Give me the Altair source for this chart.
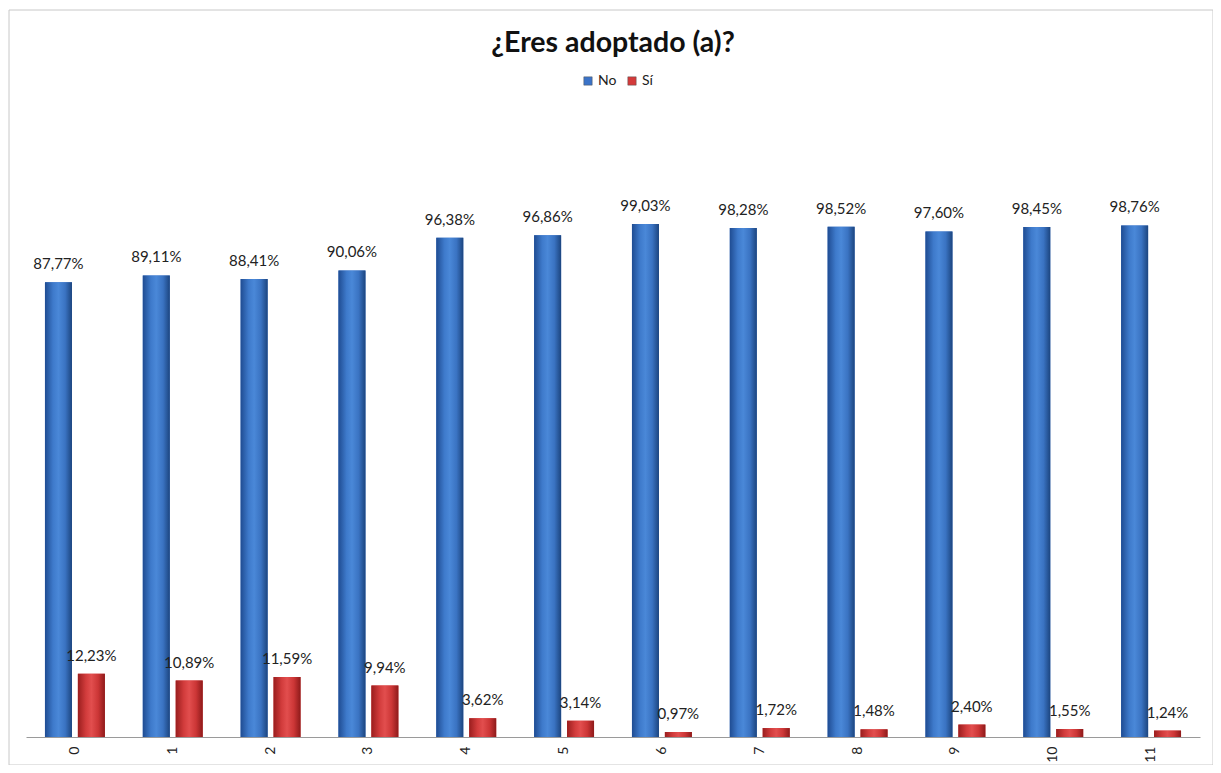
import altair as alt
import pandas as pd

categories = ["0", "1", "2", "3", "4", "5", "6", "7", "8", "9", "10", "11"]
no_values = [87.77, 89.11, 88.41, 90.06, 96.38, 96.86, 99.03, 98.28, 98.52, 97.60, 98.45, 98.76]
si_values = [12.23, 10.89, 11.59, 9.94, 3.62, 3.14, 0.97, 1.72, 1.48, 2.40, 1.55, 1.24]
series = ["No", "Sí"]

rows = []
for c, n, s in zip(categories, no_values, si_values):
    rows.append({"cat": c, "serie": "No", "v": n})
    rows.append({"cat": c, "serie": "Sí", "v": s})
df = pd.DataFrame(rows)

W, H = 1174, 518
FONT = "Lato"

x_enc = alt.X("cat:N", sort=categories, title=None,
              scale=alt.Scale(paddingInner=0, paddingOuter=0),
              axis=alt.Axis(labelAngle=-90, labelFontSize=14, labelFont=FONT,
                            labelColor="#222", domainColor="#9a9a9a", ticks=False,
                            labelPadding=9, grid=False))
xo_enc = alt.XOffset("serie:N", sort=series,
                     scale=alt.Scale(domain=series, paddingInner=0.18, paddingOuter=0.576))
y_enc = alt.Y("v:Q", scale=alt.Scale(domain=[0, 100], nice=False), axis=None, title=None)

base = alt.Chart(df).encode(x=x_enc, xOffset=xo_enc, y=y_enc)

legend_bars = base.mark_bar().encode(
    color=alt.Color("serie:N", sort=series,
                    scale=alt.Scale(domain=series, range=["#3B73C8", "#D43A3A"]),
                    legend=alt.Legend(title=None, orient="none", direction="horizontal",
                                      legendX=555, legendY=-145, symbolType="square",
                                      symbolSize=70, labelFontSize=14, labelFont=FONT,
                                      labelColor="#222", columnPadding=8, labelOffset=3,
                                      symbolStrokeColor="#555", symbolStrokeWidth=0.5))
)

blue_grad = alt.Gradient(gradient="linear", x1=0, x2=1, y1=0, y2=0, stops=[
    alt.GradientStop(color="#1F4C92", offset=0),
    alt.GradientStop(color="#3E7ACB", offset=0.3),
    alt.GradientStop(color="#4A88D8", offset=0.5),
    alt.GradientStop(color="#3A73C2", offset=0.75),
    alt.GradientStop(color="#1C457F", offset=1)])
red_grad = alt.Gradient(gradient="linear", x1=0, x2=1, y1=0, y2=0, stops=[
    alt.GradientStop(color="#9A1E1E", offset=0),
    alt.GradientStop(color="#D23C3C", offset=0.3),
    alt.GradientStop(color="#E24E4E", offset=0.5),
    alt.GradientStop(color="#CC3636", offset=0.75),
    alt.GradientStop(color="#8E1A1A", offset=1)])

blue_bars = base.mark_bar(color=blue_grad).transform_filter(alt.datum.serie == "No")
red_bars = base.mark_bar(color=red_grad).transform_filter(alt.datum.serie == "Sí")

labels = base.mark_text(dy=-10, fontSize=15, font=FONT, color="#222", baseline="bottom").encode(
    text="lab:N"
).transform_calculate(lab="replace(format(datum.v, '.2f'), '.', ',') + '%'")

frame = alt.Chart(alt.Data(values=[{}])).mark_rect(
    fill=None, stroke="#c8c8c8", strokeWidth=1
).encode(x=alt.value(-17), x2=alt.value(W + 13), y=alt.value(-209), y2=alt.value(H + 28))

chart = alt.layer(frame, legend_bars, blue_bars, red_bars, labels).properties(
    width=W, height=H,
    title=alt.Title("¿Eres adoptado (a)?", fontSize=28.5, font=FONT, fontWeight="bold",
                    color="#111", anchor="middle", offset=0, dy=48),
    padding={"left": 18, "top": 211, "right": 13, "bottom": 28},
    autosize=alt.AutoSizeParams(type="none"),
).configure_view(stroke=None)

chart.save("out.html", embed_options={"renderer": "svg", "actions": False})
